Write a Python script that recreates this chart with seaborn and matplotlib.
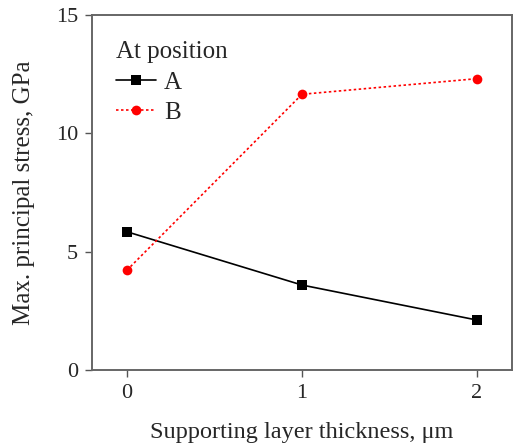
import matplotlib
matplotlib.use("Agg")
import matplotlib.pyplot as plt
import numpy as np
import pandas as pd
import seaborn as sns

thickness = [0, 1, 2]
stress_a = [5.84, 3.59, 2.11]
stress_b = [4.22, 11.65, 12.31]
positions = ["A", "B"]

df = pd.DataFrame({
    "thickness": thickness * 2,
    "stress": stress_a + stress_b,
    "position": [positions[0]] * 3 + [positions[1]] * 3,
})

sns.set_theme(style="ticks")
plt.rcParams["font.family"] = ["Liberation Serif", "DejaVu Serif"]

fig = plt.figure(figsize=(5.21, 4.48), dpi=100)
ax = fig.add_axes([92 / 521, 1 - 370 / 448, 420 / 521, 355 / 448])

sns.lineplot(data=df, x="thickness", y="stress", hue="position", style="position",
             palette={"A": "black", "B": "red"},
             markers={"A": "s", "B": "o"},
             dashes={"A": "", "B": (1.5, 1.5)},
             markersize=7, markeredgewidth=0, linewidth=1.2, ax=ax)

ax.set_xlim(-0.2, 2.2)
ax.set_ylim(0, 15)
ax.set_xticks([0, 1, 2])
ax.set_yticks([0, 5, 10, 15])
ax.tick_params(labelsize=16, length=5, width=1, color="#555555", pad=5)
for s in ax.spines.values():
    s.set_color("#666666")
    s.set_linewidth(1.4)

ax.set_xlabel("Supporting layer thickness, μm", fontsize=17.5, labelpad=14)
ax.set_ylabel("Max. principal stress, GPa", fontsize=18, labelpad=15)

leg = ax.legend(title="At position", loc="upper left", frameon=False, fontsize=18,
                title_fontsize=18, handlelength=1.6, handletextpad=0.3,
                labelspacing=0.3, borderaxespad=0, bbox_to_anchor=(0.034, 0.955))
leg._legend_box.align = "left"
leg._legend_box.sep = 6

fig.savefig("out.png", dpi=100)
